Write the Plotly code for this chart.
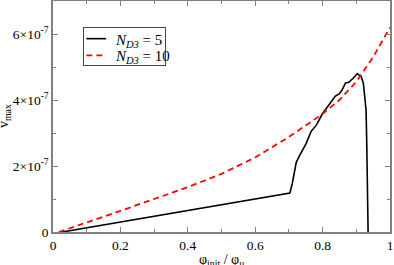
import plotly.graph_objects as go

# Data (y in units of 1e-7)
x_nd5 = [0.027, 0.2, 0.4, 0.6, 0.703, 0.71, 0.722, 0.732, 0.751, 0.766, 0.781, 0.80,
         0.82, 0.838, 0.85, 0.858, 0.868, 0.878, 0.89, 0.903, 0.915, 0.921, 0.926,
         0.929, 0.931, 0.933, 0.935]
y_nd5 = [0.0, 0.30, 0.65, 1.0, 1.18, 1.47, 2.12, 2.32, 2.68, 3.05, 3.23, 3.59,
         3.86, 4.12, 4.19, 4.31, 4.52, 4.54, 4.65, 4.80, 4.70, 4.50, 4.00,
         3.69, 2.69, 0.96, 0.0]

x_nd10 = [0.017, 0.1, 0.2, 0.3, 0.4, 0.5, 0.6, 0.7, 0.8, 0.85, 0.9, 0.95, 1.0]
y_nd10 = [0.0, 0.28, 0.64, 1.0, 1.36, 1.76, 2.26, 2.88, 3.58, 4.0, 4.55, 5.3, 6.2]

x_ticks = [0, 0.2, 0.4, 0.6, 0.8, 1.0]
x_ticklabels = ["0", "0.2", "0.4", "0.6", "0.8", "1"]
y_ticks = [0, 2e-7, 4e-7, 6e-7]
y_ticklabels = ["0", "2×10<sup>-7</sup>", "4×10<sup>-7</sup>", "6×10<sup>-7</sup>"]

series_names = ["<i>N</i><sub><i>D3</i></sub> = 5", "<i>N</i><sub><i>D3</i></sub> = 10"]
series_colors = ["black", "red"]
series_dash = ["solid", "6px,4px"]
series_width = [1.6, 1.8]

FONT = "Liberation Serif"
AX = "#808080"

fig = go.Figure()
for xs, ys, name, col, dash, w in zip([x_nd5, x_nd10], [y_nd5, y_nd10], series_names,
                                      series_colors, series_dash, series_width):
    fig.add_trace(go.Scatter(
        x=xs, y=[v * 1e-7 for v in ys], mode="lines",
        line=dict(color=col, width=w, dash=dash), name=name, showlegend=False))

axis_common = dict(
    showline=True, linecolor=AX, linewidth=1.5, mirror="ticks",
    ticks="inside", ticklen=5, tickcolor=AX, tickwidth=1,
    showgrid=False, zeroline=False, automargin=False,
    tickfont=dict(family=FONT, size=13.5, color="black"),
)

fig.update_xaxes(
    range=[0, 1], tickvals=x_ticks, ticktext=x_ticklabels,
    minor=dict(dtick=0.1, ticks="inside", ticklen=3, tickcolor=AX, showgrid=False),
    **axis_common)
fig.update_yaxes(
    range=[0, 7e-7], tickvals=y_ticks, ticktext=y_ticklabels,
    minor=dict(dtick=1e-7, ticks="inside", ticklen=3, tickcolor=AX, showgrid=False),
    **axis_common)

# axis titles
fig.add_annotation(
    text="φ<sub>init</sub> / φ<sub>μ</sub>", xref="paper", yref="paper",
    x=0.5, y=0, yshift=-18, xanchor="center", yanchor="top", showarrow=False,
    font=dict(family=FONT, size=14, color="black"))
fig.add_annotation(
    text="v<sub>max</sub>", xref="paper", yref="paper",
    x=0, y=0.5, xshift=-38, xanchor="right", yanchor="middle", showarrow=False,
    textangle=-90, font=dict(family=FONT, size=14, color="black"))

# legend box: an empty bordered annotation
fig.add_annotation(
    text=" ", xref="paper", yref="paper", x=0.088, y=0.889,
    xanchor="left", yanchor="top", showarrow=False, width=81, height=37,
    borderpad=0, borderwidth=1, bordercolor="#444444", bgcolor="rgba(255,255,255,0)",
    font=dict(family=FONT, size=10, color="black"))

leg_y = [0.837, 0.765]
for name, col, dash, w, ly in zip(series_names, series_colors, series_dash, series_width, leg_y):
    fig.add_shape(type="line", xref="paper", yref="paper", x0=0.099, x1=0.158,
                  y0=ly, y1=ly, line=dict(color=col, width=w, dash=dash), layer="above")
    fig.add_annotation(text=name, xref="paper", yref="paper", x=0.178, y=ly,
                       yshift=-2, xanchor="left", yanchor="middle", showarrow=False,
                       font=dict(family=FONT, size=15, color="black"))

fig.update_layout(
    width=394, height=265,
    margin=dict(l=53, r=4, t=1, b=33, autoexpand=False),
    plot_bgcolor="white", paper_bgcolor="white",
    font=dict(family=FONT, size=13.5, color="black"),
    showlegend=False,
)

fig.write_html("out.html", config={"displayModeBar": False},
               post_script="document.body.style.margin='0';")
